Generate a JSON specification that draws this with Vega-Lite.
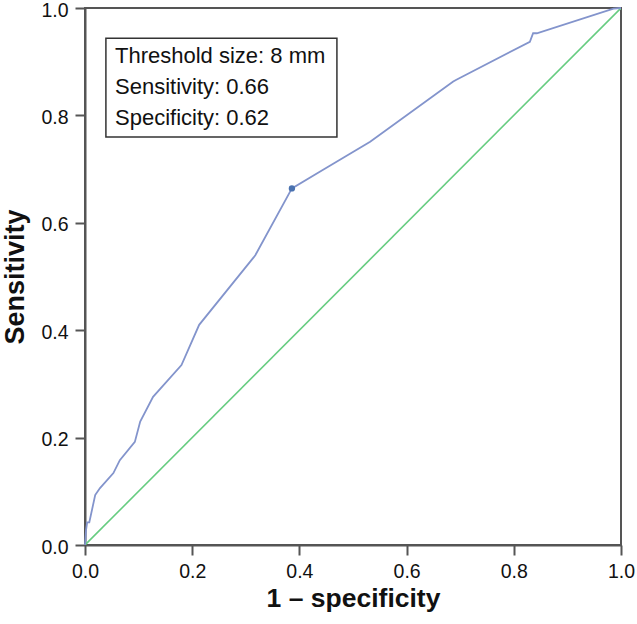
{
  "$schema": "https://vega.github.io/schema/vega-lite/v6.json",
  "width": 536,
  "height": 537,
  "autosize": "none",
  "padding": {"left": 85, "top": 8, "right": 16, "bottom": 79},
  "background": "white",
  "config": {
    "view": {"stroke": "#555555", "strokeWidth": 2},
    "axis": {
      "domainColor": "#555555", "domainWidth": 2,
      "tickColor": "#555555", "tickWidth": 2, "tickSize": 10,
      "grid": false, "labelFlush": false,
      "labelFont": "Liberation Sans", "labelFontSize": 19.5, "labelColor": "#111111",
      "titleFont": "Liberation Sans", "titleFontWeight": "bold", "titleColor": "#111111"
    }
  },
  "datasets": {
    "roc": [
      {"fpr": 0.0, "tpr": 0.0},
      {"fpr": 0.002, "tpr": 0.028},
      {"fpr": 0.004, "tpr": 0.042},
      {"fpr": 0.008, "tpr": 0.042},
      {"fpr": 0.019, "tpr": 0.093},
      {"fpr": 0.028, "tpr": 0.106},
      {"fpr": 0.053, "tpr": 0.134},
      {"fpr": 0.065, "tpr": 0.158},
      {"fpr": 0.093, "tpr": 0.192},
      {"fpr": 0.103, "tpr": 0.230},
      {"fpr": 0.127, "tpr": 0.276},
      {"fpr": 0.180, "tpr": 0.335},
      {"fpr": 0.213, "tpr": 0.410},
      {"fpr": 0.315, "tpr": 0.536},
      {"fpr": 0.318, "tpr": 0.540},
      {"fpr": 0.386, "tpr": 0.664},
      {"fpr": 0.438, "tpr": 0.695},
      {"fpr": 0.532, "tpr": 0.751},
      {"fpr": 0.687, "tpr": 0.863},
      {"fpr": 0.692, "tpr": 0.866},
      {"fpr": 0.830, "tpr": 0.937},
      {"fpr": 0.836, "tpr": 0.953},
      {"fpr": 0.843, "tpr": 0.953},
      {"fpr": 0.986, "tpr": 0.999},
      {"fpr": 1.0, "tpr": 1.0}
    ],
    "ref": [
      {"fpr": 0.0, "tpr": 0.0},
      {"fpr": 1.0, "tpr": 1.0}
    ],
    "cut": [
      {"fpr": 0.386, "tpr": 0.664}
    ]
  },
  "layer": [
    {
      "data": {"name": "ref"},
      "mark": {"type": "line", "color": "#66cc80", "strokeWidth": 1.6, "clip": true},
      "encoding": {
        "x": {"field": "fpr", "type": "quantitative", "scale": {"domain": [0, 1], "nice": false},
              "axis": {"title": "1 – specificity", "titleFontSize": 26.5, "values": [0, 0.2, 0.4, 0.6, 0.8, 1.0], "format": ".1f", "labelPadding": 7, "titlePadding": 5}},
        "y": {"field": "tpr", "type": "quantitative", "scale": {"domain": [0, 1], "nice": false},
              "axis": {"title": "Sensitivity", "titleFontSize": 27, "values": [0, 0.2, 0.4, 0.6, 0.8, 1.0], "format": ".1f", "labelPadding": 7, "labelOffset": 2, "titlePadding": 11}}
      }
    },
    {
      "data": {"name": "roc"},
      "mark": {"type": "line", "color": "#8394cc", "strokeWidth": 1.8},
      "encoding": {
        "x": {"field": "fpr", "type": "quantitative"},
        "y": {"field": "tpr", "type": "quantitative"}
      }
    },
    {
      "data": {"name": "cut"},
      "mark": {"type": "point", "filled": true, "color": "#4a72b0", "size": 40, "opacity": 1},
      "encoding": {
        "x": {"field": "fpr", "type": "quantitative"},
        "y": {"field": "tpr", "type": "quantitative"}
      }
    },
    {
      "data": {"values": [{"label": "box"}]},
      "mark": {"type": "rect", "fill": "white", "stroke": "#333333", "strokeWidth": 1.5},
      "encoding": {
        "x": {"datum": 0.039, "type": "quantitative"},
        "x2": {"datum": 0.470},
        "y": {"datum": 0.9436, "type": "quantitative"},
        "y2": {"datum": 0.760}
      }
    },
    {
      "data": {"values": [{"label": "box"}]},
      "mark": {"type": "text", "text": ["Threshold size: 8 mm", "Sensitivity: 0.66", "Specificity: 0.62"],
               "align": "left", "baseline": "alphabetic", "font": "Liberation Sans", "fontSize": 22, "lineHeight": 31, "color": "#111111"},
      "encoding": {
        "x": {"datum": 0.056, "type": "quantitative"},
        "y": {"datum": 0.897, "type": "quantitative"}
      }
    }
  ]
}
